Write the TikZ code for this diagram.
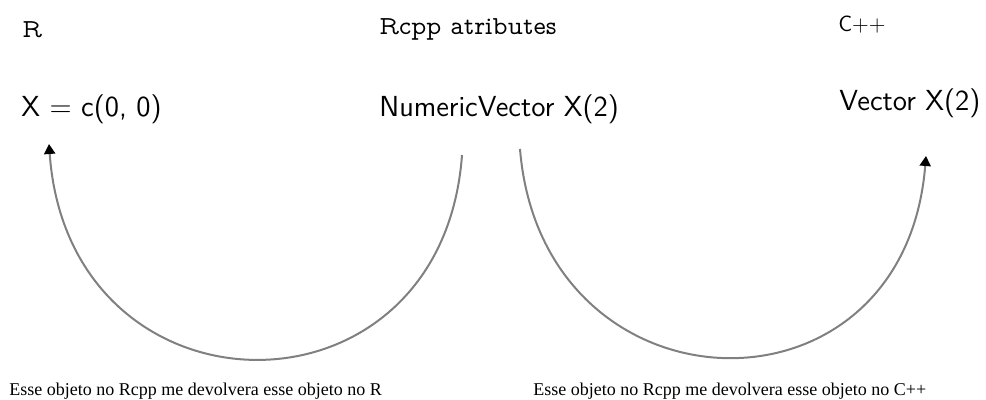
\documentclass[tikz,border=0pt]{standalone}
\usepackage{fontspec}
\usepackage{amsmath}
\usetikzlibrary{arrows.meta}
\newfontfamily\timesfont{Liberation Serif}
\newfontfamily\propmono{lmmonoprop10-regular}[Extension=.otf]

\begin{document}
\begin{tikzpicture}[
        x = 0.5pt, y = 0.5pt,
        every node/.style = {inner sep=0pt, anchor=base west},
        lang/.style = {font=\fontsize{13}{15}\propmono},
        langsf/.style = {font=\fontsize{11}{13}\sffamily},
        obj/.style = {font=\fontsize{14.5}{17}\sffamily},
        note/.style = {font=\fontsize{9}{11}\timesfont},
        ret/.style = {draw=gray, line width=1pt, -{Triangle[length=5pt, width=5.5pt, black]}},
      ]
      \useasboundingbox (0,0) rectangle (986,400);

      % headers
      \node[lang] (hr) at (22,362) {R};
      \node[lang] (hrcpp) at (379,365) {Rcpp atributes};
      \node[langsf] (hcpp) at (838,368) {C++};

      % objects
      \node[obj] (xr) at (21,283) {X = c(0, 0)};
      \node[obj] (nv) at (379,283) {NumericVector X(2)};
      \node[obj] (vc) at (839,289) {Vector X(2)};

      % notes
      \node[note] (n1) at (9,4) {Esse objeto no Rcpp me devolvera esse objeto no R};
      \node[note] (n2) at (533,4) {Esse objeto no Rcpp me devolvera esse objeto no C++};

      % arc ends
      \coordinate (nvL) at (462,245);
      \coordinate (nvR) at (520,251);
      \coordinate (xrIn) at (49,256);
      \coordinate (vcIn) at (926,244);

      \draw[ret] (nvL) .. controls +(-20,-276) and +(20,-282) .. (xrIn);
      \draw[ret] (nvR) .. controls +(22,-270) and +(-22,-275) .. (vcIn);

    \end{tikzpicture}
\end{document}
